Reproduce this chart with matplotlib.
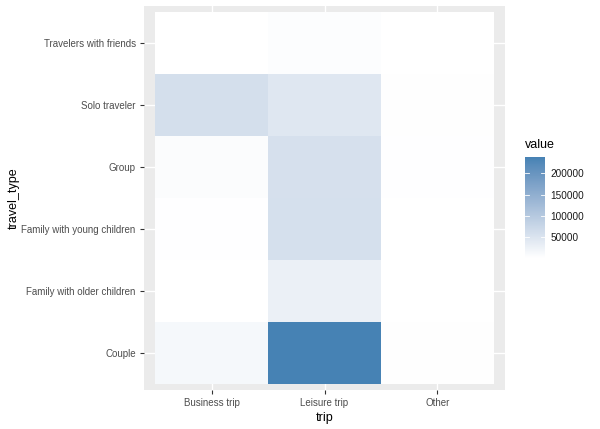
import numpy as np
import matplotlib
matplotlib.use("Agg")
import matplotlib.pyplot as plt
from matplotlib.colors import ListedColormap, Normalize
import matplotlib as mpl

plt.rcParams['font.family'] = ['Liberation Sans', 'DejaVu Sans']

trips = ["Business trip", "Leisure trip", "Other"]
travel_types = ["Couple", "Family with older children", "Family with young children",
                "Group", "Solo traveler", "Travelers with friends"]
# rows follow travel_types, columns follow trips
business = [14000, 1500, 2500, 7000, 60000, 1000]
leisure = [238000, 28000, 58000, 57000, 45000, 5000]
other = [3500, 1200, 1500, 2000, 3500, 1500]
legend_ticks = [50000, 100000, 150000, 200000]

values = np.array([business, leisure, other]).T  # shape (6, 3)

# white -> steelblue gradient interpolated in Lab (like ggplot2)
def srgb_to_lab(rgb):
    rgb = np.asarray(rgb, float)
    lin = np.where(rgb <= 0.04045, rgb / 12.92, ((rgb + 0.055) / 1.055) ** 2.4)
    M = np.array([[0.4124, 0.3576, 0.1805], [0.2126, 0.7152, 0.0722], [0.0193, 0.1192, 0.9505]])
    xyz = lin @ M.T
    wp = np.array([0.95047, 1.0, 1.08883])
    r = xyz / wp
    f = np.where(r > (6 / 29) ** 3, np.cbrt(r), r / (3 * (6 / 29) ** 2) + 4 / 29)
    L = 116 * f[..., 1] - 16
    a = 500 * (f[..., 0] - f[..., 1])
    b = 200 * (f[..., 1] - f[..., 2])
    return np.stack([L, a, b], -1)

def lab_to_srgb(lab):
    L, a, b = lab[..., 0], lab[..., 1], lab[..., 2]
    fy = (L + 16) / 116
    fx = fy + a / 500
    fz = fy - b / 200
    def finv(t):
        return np.where(t > 6 / 29, t ** 3, 3 * (6 / 29) ** 2 * (t - 4 / 29))
    wp = np.array([0.95047, 1.0, 1.08883])
    xyz = np.stack([finv(fx), finv(fy), finv(fz)], -1) * wp
    Minv = np.array([[3.2406, -1.5372, -0.4986], [-0.9689, 1.8758, 0.0415], [0.0557, -0.2040, 1.0570]])
    lin = xyz @ Minv.T
    lin = np.clip(lin, 0, 1)
    rgb = np.where(lin <= 0.0031308, 12.92 * lin, 1.055 * lin ** (1 / 2.4) - 0.055)
    return np.clip(rgb, 0, 1)

low = srgb_to_lab(np.array([1.0, 1.0, 1.0]))
high = srgb_to_lab(np.array([70, 130, 180]) / 255.0)
t = np.linspace(0, 1, 256)[:, None]
cmap = ListedColormap(lab_to_srgb(low + (high - low) * t))

vmin, vmax = values.min(), values.max()
norm = Normalize(vmin=vmin, vmax=vmax)

fig = plt.figure(figsize=(6, 4.29), dpi=100)
ax = fig.add_axes([144 / 600, 1 - 390 / 429, (505 - 144) / 600, (390 - 6) / 429])
ax.set_facecolor("#EBEBEB")

nx, ny = len(trips), len(travel_types)
xe = np.arange(nx + 1) + 0.5
ye = np.arange(ny + 1) + 0.5
ax.pcolormesh(xe, ye, values, cmap=cmap, norm=norm, zorder=2)

ax.set_xlim(0.4, nx + 0.6)
ax.set_ylim(0.4, ny + 0.6)
ax.set_xticks(np.arange(1, nx + 1))
ax.set_xticklabels(trips)
ax.set_yticks(np.arange(1, ny + 1))
ax.set_yticklabels(travel_types)
ax.grid(True, color="white", linewidth=1.0, zorder=1)
ax.set_axisbelow(True)
for s in ax.spines.values():
    s.set_visible(False)
ax.tick_params(axis="both", length=3, width=0.8, color="#333333", labelsize=7.0,
               labelcolor="#4D4D4D", pad=3)
ax.set_xlabel("trip", fontsize=9, labelpad=3)
ax.set_ylabel("travel_type", fontsize=9, labelpad=1)

# colorbar
cax = fig.add_axes([525 / 600, 1 - 258 / 429, 20 / 600, 101 / 429])
sm = mpl.cm.ScalarMappable(norm=norm, cmap=cmap)
cb = fig.colorbar(sm, cax=cax, ticks=legend_ticks)
cb.outline.set_visible(False)
cb.ax.tick_params(length=0, labelsize=7.2, labelcolor="#1A1A1A", pad=4)
cb.ax.set_yticklabels([str(v) for v in legend_ticks])
for v in legend_ticks:
    cax.plot([0, 0.2], [v, v], color="white", lw=0.6, transform=cax.get_yaxis_transform())
    cax.plot([0.8, 1.0], [v, v], color="white", lw=0.6, transform=cax.get_yaxis_transform())
fig.text(525 / 600, 1 - 145 / 429, "value", fontsize=9, va="center", ha="left")

fig.savefig("out.png", dpi=100)
